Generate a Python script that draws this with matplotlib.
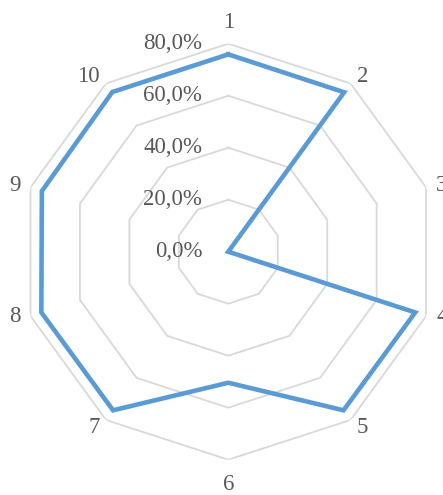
import numpy as np
import matplotlib
matplotlib.use("Agg")
import matplotlib.pyplot as plt
from matplotlib.transforms import ScaledTranslation

categories = ["1", "2", "3", "4", "5", "6", "7", "8", "9", "10"]
values = [75.9, 75.8, 0.0, 75.6, 75.4, 50.4, 75.4, 75.6, 75.4, 75.9]
ticks = [0, 20, 40, 60, 80]
tick_labels = ["0,0%", "20,0%", "40,0%", "60,0%", "80,0%"]

plt.rcParams["font.family"] = ["Liberation Serif", "DejaVu Serif"]
DPI = 100
fig = plt.figure(figsize=(4.43, 4.95), dpi=DPI)
ax = fig.add_axes([0.0458, 0.0713, 0.9391, 0.8404], projection="polar")
ax.set_theta_zero_location("N")
ax.set_theta_direction(-1)
ax.set_ylim(0, 80)
ax.set_xticks([])
ax.set_yticks([])
ax.grid(False)
ax.spines["polar"].set_visible(False)
ax.patch.set_visible(False)

n = len(categories)
theta = np.arange(n) * 2 * np.pi / n
theta_c = np.append(theta, theta[0])

for t in ticks[1:]:
    ax.plot(theta_c, [t] * (n + 1), color="#d9d9d9", lw=1.3, zorder=1)

v = np.append(values, values[0])
ax.plot(theta_c, v, color="#5b9bd5", lw=3.3, solid_joinstyle="miter", zorder=3)

off = ScaledTranslation(-26 / DPI, 0, fig.dpi_scale_trans)
for t, lab in zip(ticks, tick_labels):
    ax.text(0, t, lab, ha="right", va="center", fontsize=16.5, color="#595959",
            transform=ax.transData + off, zorder=4)

# label offsets from the outer vertex, in pixels (x right, y down)
for th, lab in zip(theta, categories):
    s, c = np.sin(th), np.cos(th)
    if abs(s) < 0.01:
        ha = "center"
        dx, dy = 0, (-21.7 if c > 0 else 25)
    else:
        ha = "left" if s > 0 else "right"
        gx = 6.4 if abs(c) > 0.5 else 10
        dx = gx if s > 0 else -gx
        if abs(c) > 0.5:
            dy = -6.8 if c > 0 else 8
        else:
            dy = -2 if c > 0 else 1
    tr = ax.transData + ScaledTranslation(dx / DPI, -dy / DPI, fig.dpi_scale_trans)
    ax.text(th, 80, lab, ha=ha, va="center", fontsize=16.5,
            color="#595959", clip_on=False, transform=tr)

fig.savefig("out.png", dpi=DPI)
